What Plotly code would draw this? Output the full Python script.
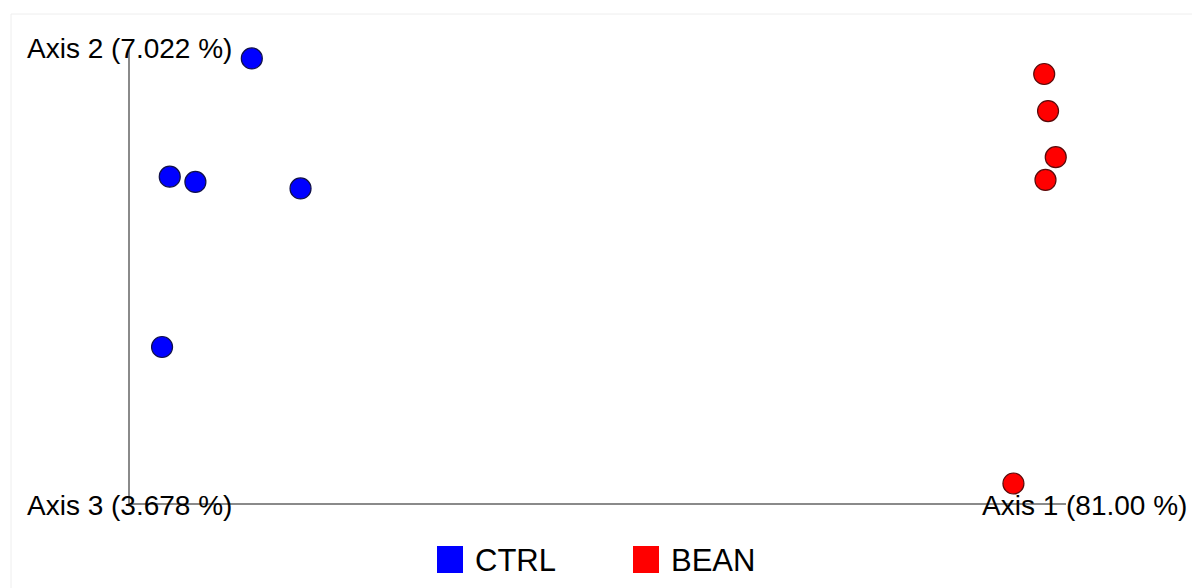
import plotly.graph_objects as go

# PCoA sample coordinates (Axis 1 vs Axis 2)
groups = ["CTRL", "BEAN"]
colors = ["#0000ff", "#ff0000"]
edge_colors = ["#10104a", "#5a0a0a"]

ctrl_axis1 = [-0.305, -0.369, -0.349, -0.267, -0.375]
ctrl_axis2 = [0.142, 0.051, 0.047, 0.042, -0.080]
bean_axis1 = [0.313, 0.316, 0.322, 0.314, 0.289]
bean_axis2 = [0.130, 0.1015, 0.066, 0.0485, -0.185]

axis_labels = ["Axis 1 (81.00 %)", "Axis 2 (7.022 %)", "Axis 3 (3.678 %)"]

X_RANGE = [-0.40, 0.33]
Y_RANGE = [-0.20, 0.15]

W, H = 1192, 588
L, R, T, B = 130, 126, 48, 85
PW, PH = W - L - R, H - T - B


def px_x(p):
    return (p - L) / PW


def px_y(p):
    return (H - B - p) / PH


FONT = "Liberation Sans, Arial, Helvetica, sans-serif"

fig = go.Figure()
series = [(ctrl_axis1, ctrl_axis2), (bean_axis1, bean_axis2)]
for name, (xs, ys), c, ec in zip(groups, series, colors, edge_colors):
    fig.add_trace(go.Scatter(
        x=xs, y=ys, mode="markers", name=name, showlegend=False,
        cliponaxis=False,
        marker=dict(size=21, color=c, line=dict(color=ec, width=1.2)),
    ))

axis_style = dict(showgrid=False, zeroline=False, showticklabels=False,
                  ticks="", showline=True, linecolor="#8a8a8a", linewidth=1.5)
fig.update_xaxes(range=X_RANGE, **axis_style)
fig.update_yaxes(range=Y_RANGE, **axis_style)

annotations = [
    dict(text=axis_labels[1], x=px_x(25), y=px_y(48), xanchor="left"),
    dict(text=axis_labels[2], x=px_x(25), y=px_y(505), xanchor="left"),
    dict(text=axis_labels[0], x=px_x(1189), y=px_y(505), xanchor="right"),
]
for a in annotations:
    a.update(xref="paper", yref="paper", yanchor="middle", showarrow=False,
             font=dict(family=FONT, size=28, color="#000000"))

shapes = [
    # faint outer frame
    dict(type="rect", xref="paper", yref="paper",
         x0=px_x(11), x1=px_x(1250), y0=px_y(640), y1=px_y(14),
         line=dict(color="#eeeeee", width=1), fillcolor="rgba(0,0,0,0)", layer="below"),
]

# legend: coloured squares with group names
legend_x = [437, 633]
for gx, name, c in zip(legend_x, groups, colors):
    shapes.append(dict(type="rect", xref="paper", yref="paper",
                       x0=px_x(gx), x1=px_x(gx + 26), y0=px_y(573), y1=px_y(546),
                       fillcolor=c, line=dict(width=0)))
    annotations.append(dict(text=name, x=px_x(gx + 36), y=px_y(560),
                            xref="paper", yref="paper", xanchor="left",
                            yanchor="middle", showarrow=False,
                            font=dict(family=FONT, size=31, color="#000000")))

fig.update_layout(
    width=W, height=H,
    margin=dict(l=L, r=R, t=T, b=B),
    plot_bgcolor="white", paper_bgcolor="white",
    annotations=annotations, shapes=shapes,
    showlegend=False,
)

fig.write_html("out.html")
